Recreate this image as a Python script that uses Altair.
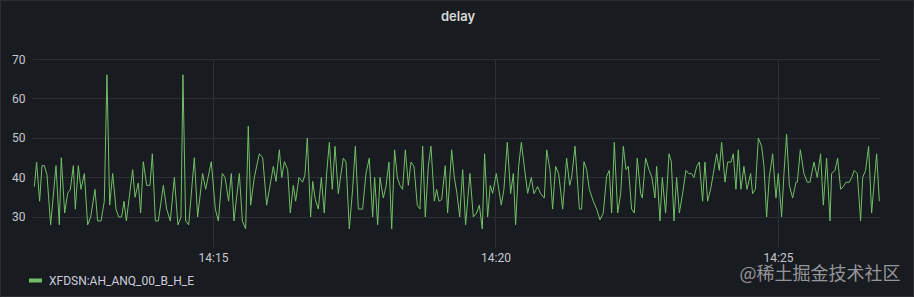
import altair as alt
import pandas as pd

# seconds after 14:10:00 and delay values (three segments)
t_a = [110.3,112.7,115.9,118.4,120.9,123.7,127.6,133.3,136.8,138.9,142.5,145.7,148.5,151.7,153.8,157.0,159.8,163.4,166.9,170.1,
       174.7,177.5,181.1,184.6,187.4,190.3,193.5,197.0,199.8,203.0,205.5,208.0,214.7,217.2,220.7,223.2,226.0,229.6,233.1,235.6,
       238.8,242.0,247.3,250.8,254.7,259.0,262.8,266.0,268.1,271.0,274.2,280.2,283.7,289.0,292.2,298.2,302.5,305.7,309.9,312.8,
       316.6,319.5,322.3,328.0,331.2,334.7,337.5,340.0,343.9,349.2,352.8,357.0,364.1,366.9,370.5,373.0,375.8,379.3,382.1,385.3,
       387.8,391.3]
v_a = [37.7,43.9,34,43,43,40.7,28,43,28,45,31,36,37,43,32,43,37,41,28,30,
       37,29,29,34,66,33,41,32,30,30,34,29,42,35,38.6,31,44,38,38,46,
       29,29,38,32,29,40,28,30,66,29,28,45,30,41,37,44,32,29,41,40,
       34,41,29,41,29,27,53,33,40,46,45,33,42.8,39,47,40,44,42,31,38,
       34,40]

t_b = [395.2,397.7,400.2,403.7,405.9,408.7,411.9,415.1,418.2,420.7,
       423.6,426.7,429.6,433.1,435.6,438.4,441.3,444.8,448.3,451.2,
       454.4,458.9,462.5,466.0,469.6,471.7,474.9,477.4,480.9,483.7,
       486.9,489.8,492.9,495.8,498.6,501.4,504.3,507.5,510.3,513.5,
       517.0,519.8,522.7,525.5,528.7,531.5,535.1,537.5,540.0,542.9,
       546.7,549.2,553.5,556.3,559.1,562.0,565.2,568.3,572.9,576.5,
       580.0,582.9,586.0,588.5,591.7,594.5,597.0,600.9,606.2,609.0,
       612.6,616.1,619.0,621.4,624.6,627.5,630.6,634.2,638.1,640.9,
       644.8,648.0,651.9,654.4,657.9,660.7,663.9,667.1,671.4,675.6,
       678.8,680.9,684.5,689.1,691.5,694.0,696.8,699.7,703.9,707.5,
       711.0]
v_b = [38.8,40.7,50,30,39,34.4,32,40,31,41,
       48.9,37,47.9,35.9,40.4,44.9,43.9,27,37,47.9,
       32,32,41,44.9,30,40,28,40,34.8,37.7,
       43.9,27,47,40,38,37,47,38,43.9,42.8,
       33,32,47.9,30,42.8,47.9,34,37,34,34.4,
       43,31,47,40,36,30,42,28,41,30,
       31,33,27,46,30,38,36,41,33,37,
       48.9,35.9,41,28,42.8,48.9,42.8,36,40,35.9,
       37.7,35.9,34.8,47,42,32,42.8,41,32,44.9,
       38,40,47.9,32,32,44,42,37,34,32,
       29.3]

t_c = [714.5,718.1,720.9,723.4,726.2,729.8,733.0,735.8,738.6,741.1,
       744.6,747.5,750.6,754.2,756.0,759.5,763.0,766.2,769.4,771.2,
       774.7,777.2,780.7,784.3,786.8,789.6,792.4,795.3,798.8,802.3,
       805.2,808.0,810.8,813.7,816.5,820.0,822.5,825.3,828.5,831.4,
       834.9,837.7,840.2,843.8,846.6,850.1,852.6,855.4,857.9,860.7,
       863.9,867.1,871.0,873.1,876.0,879.2,882.7,885.2,888.0,890.8,
       894.4,897.9,900.4,903.9,906.4,909.2,912.1,915.6,919.2,920.6,
       923.8,927.6,931.2,934.0,938.3,941.8,945.3,948.2,951.7,955.3,
       957.0,960.6,963.4,966.6,969.4,972.3,975.8,978.3,981.1,984.3,
       987.8,990.0,993.1,996.3,999.5,1004.8,1007.7]
v_c = [31,40.3,41.8,31,48.9,31,36,47.9,42,42.8,
       32,31,44.9,35.9,34.8,44.9,42,40,34.8,42.8,
       29,40,31,46,44,29,40,31,36,41.8,
       41,41,40,42.8,43.9,34,43.9,34,37,41,
       46,41.8,48.9,38.8,43.9,43.9,46,37,47,37,
       42.8,37,41,35.9,37,50,47.9,42.8,30,40,
       46,34.8,41,30,41,51,38,34.8,38.8,38.8,
       47,41,38.8,38.8,43.9,40,46,33,44.9,29,
       41,41.8,44.9,37,37.7,38.8,38.8,40,41.8,41,
       29,40,41.8,47.9,31,46,34]

series_name = "XFDSN:AH_ANQ_00_B_H_E"
y_ticks = [30, 40, 50, 60, 70]
title_text = "delay"
watermark = "@稀土掘金技术社区"

secs = t_a + t_b + t_c
vals = v_a + v_b + v_c
base = pd.Timestamp("2023-05-20 14:10:00")
df = pd.DataFrame({
    "time": base + pd.to_timedelta(secs, unit="s"),
    "delay": vals,
    "series": series_name,
})

x_dom = [alt.DateTime(year=2023, month=5, date=20, hours=14, minutes=11, seconds=47, milliseconds=800),
         alt.DateTime(year=2023, month=5, date=20, hours=14, minutes=26, seconds=48, milliseconds=400)]
x_vals = [alt.DateTime(year=2023, month=5, date=20, hours=14, minutes=m) for m in (15, 20, 25)]

line = alt.Chart(df).mark_line(strokeWidth=1, clip=True).encode(
    x=alt.X("time:T", scale=alt.Scale(domain=x_dom, nice=False),
            axis=alt.Axis(values=x_vals, format="%H:%M", title=None, grid=True,
                          labelPadding=5)),
    y=alt.Y("delay:Q", scale=alt.Scale(domain=[22.4, 70], nice=False, zero=False),
            axis=alt.Axis(values=y_ticks, title=None, grid=True, labelPadding=7)),
    color=alt.Color("series:N", scale=alt.Scale(range=["#73bf69"]),
                    legend=alt.Legend(orient="none", legendX=-5, legendY=213, title=None,
                                      symbolType="stroke", symbolSize=169, symbolStrokeWidth=4,
                                      labelColor="#ccccdc", labelFont="Roboto", labelFontSize=12,
                                      labelOffset=5)),
)

wm = alt.Chart(pd.DataFrame({"t": [watermark]})).mark_text(
    font="Noto Sans CJK SC", fontSize=18, color="#b4b5ba", opacity=0.8,
    align="center", baseline="middle"
).encode(x=alt.value(788), y=alt.value(216), text="t:N")

ttl = alt.Chart(pd.DataFrame({"t": [title_text]})).mark_text(
    font="Inter", fontSize=13, fontWeight=600, color="#d8d9da",
    align="center", baseline="alphabetic"
).encode(x=alt.value(426), y=alt.value(-38), text="t:N")

border = alt.Chart(pd.DataFrame({"b": [0]})).mark_rect(
    filled=False, stroke="#2b2d32", strokeWidth=1
).encode(x=alt.value(-31.5), x2=alt.value(881.5), y=alt.value(-58.5), y2=alt.value(237.5))

chart = alt.layer(border, line, wm, ttl).properties(
    width=848, height=188,
    padding={"left": 32, "top": 59, "right": 34, "bottom": 50},
    autosize=alt.AutoSizeParams(type="none"),
    background="#181b1f",
).configure_view(stroke=None).configure_axis(
    domain=False, ticks=False, gridColor="#2c2f34", gridWidth=1,
    labelColor="#c7c8d0", labelFont="Roboto", labelFontSize=12,
)

chart.save("out.html", embed_options={"renderer": "svg", "actions": False})
